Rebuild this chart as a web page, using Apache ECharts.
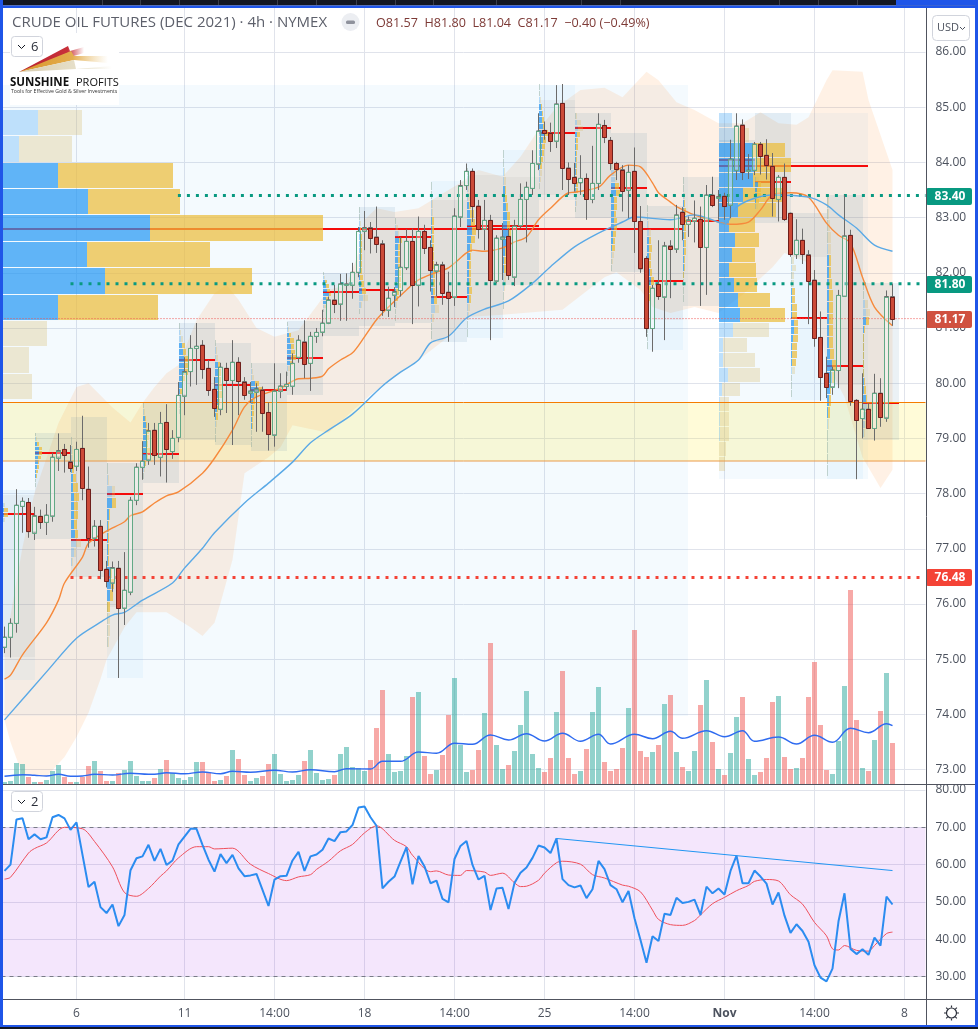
<!DOCTYPE html>
<html>
<head>
<meta charset="utf-8">
<title>Crude Oil Futures</title>
<script src="https://cdn.jsdelivr.net/npm/echarts@6/dist/echarts.min.js"></script>
<style>
html, body { margin: 0; padding: 0; background: #fff; }
#chart { width: 978px; height: 1029px; }
</style>
</head>
<body>
<div id="chart"></div>
<script>
const barOpen = [75.22,75.40,75.65,77.77,77.84,77.30,77.59,77.48,77.60,78.66,78.80,78.58,78.50,78.82,78.08,77.20,77.41,76.63,76.39,76.65,75.93,76.22,77.88,78.48,78.62,79.15,78.66,79.29,78.76,79.02,79.78,80.21,80.63,80.69,80.27,79.89,79.53,80.27,80.05,80.38,80.03,79.83,79.85,79.88,79.47,79.07,79.86,79.94,79.95,80.47,80.75,80.36,80.85,80.93,81.10,81.51,81.44,81.78,81.78,82.01,82.76,82.82,82.65,82.53,81.33,81.60,81.68,82.09,82.57,81.78,82.75,82.46,82.04,82.15,81.65,81.57,83.02,83.58,83.84,83.21,82.79,82.95,81.86,82.62,82.66,81.93,82.85,83.33,83.53,83.98,84.58,84.53,84.39,85.07,83.90,83.73,83.63,83.71,83.33,83.62,84.67,84.40,83.98,83.87,83.50,83.84,82.93,82.26,80.99,81.79,81.57,82.49,82.44,83.10,82.88,82.94,82.97,82.46,83.41,83.36,83.39,83.23,83.86,84.68,83.85,83.86,84.33,84.13,83.93,83.33,83.73,83.08,82.33,82.59,82.33,81.87,80.83,80.18,79.94,80.23,81.58,82.68,79.69,79.36,79.53,79.18,79.82,79.38,81.57];
const barClose = [75.40,75.65,77.79,77.86,77.31,77.60,77.48,77.61,78.66,78.78,78.70,78.47,78.80,78.10,77.20,77.41,76.61,76.41,76.66,75.92,76.25,77.88,78.48,78.59,79.14,78.69,79.27,78.80,79.00,79.78,80.21,80.63,80.67,80.25,79.87,79.55,80.29,80.05,80.38,80.03,79.80,79.86,79.90,79.47,79.07,79.86,79.95,79.98,80.36,80.78,80.36,80.85,80.92,81.09,81.51,81.44,81.80,81.80,82.01,82.75,82.82,82.64,82.53,81.33,81.54,81.66,82.10,82.57,81.77,82.75,82.45,82.04,82.15,81.65,81.55,83.03,83.58,83.84,83.20,82.80,82.95,81.86,82.63,82.65,81.95,82.85,83.33,83.55,83.98,84.57,84.53,84.39,85.06,83.90,83.70,83.63,83.71,83.33,83.62,84.69,84.45,83.98,83.87,83.49,83.82,82.93,82.07,80.99,81.72,81.57,82.49,82.44,83.05,82.88,82.96,82.99,82.47,83.41,83.22,83.38,83.20,84.06,84.66,83.83,83.86,84.33,84.12,83.94,83.35,83.73,82.97,82.33,82.59,82.33,81.86,80.82,80.11,79.93,80.24,81.59,82.67,79.68,79.33,79.53,79.18,79.82,79.38,81.57,81.17];
const barLow = [75.11,75.03,75.48,77.29,77.20,77.16,77.36,77.25,77.49,78.41,78.38,78.39,78.41,77.88,77.02,77.04,76.45,76.30,76.22,74.66,75.62,76.16,77.79,78.25,78.52,78.52,78.31,78.20,78.63,78.93,79.42,79.94,79.97,80.08,79.77,79.39,79.42,79.46,78.88,79.42,79.70,79.64,79.12,79.12,78.78,78.85,79.73,79.86,79.79,80.37,80.09,79.86,80.73,80.85,81.07,81.27,81.13,81.13,81.53,81.92,82.41,82.35,82.36,81.22,81.20,81.38,81.57,82.05,81.07,81.39,82.34,81.66,81.57,81.42,80.75,81.40,82.83,83.50,82.92,82.62,82.41,80.78,81.81,81.87,81.87,81.76,82.81,82.55,83.41,83.86,84.41,84.19,84.26,83.50,83.41,83.47,83.41,82.96,83.26,83.50,84.35,83.86,83.68,83.11,82.99,82.36,82.00,80.84,80.57,81.51,80.78,81.54,82.36,82.59,82.65,82.55,81.40,81.60,83.19,82.96,82.96,82.99,83.68,83.68,83.70,83.77,83.78,83.69,83.02,82.93,82.94,82.29,82.25,82.16,81.07,80.66,79.68,79.73,79.79,79.91,81.57,79.59,78.26,79.00,79.17,78.96,79.21,79.30,81.04];
const barHigh = [75.59,75.74,78.08,77.93,77.92,77.76,77.71,77.81,78.74,79.09,78.90,78.88,78.94,79.41,78.49,77.52,77.52,76.78,76.77,76.78,76.94,77.94,78.55,78.95,79.28,79.28,79.48,79.62,79.15,80.02,80.47,80.87,81.09,80.78,80.42,80.11,80.37,80.37,80.78,80.47,80.11,80.02,80.00,79.94,79.65,80.36,80.18,80.21,80.54,80.87,81.14,80.93,81.00,81.33,81.57,81.78,81.98,81.99,82.18,82.83,83.12,82.92,83.20,82.59,81.75,81.74,82.65,82.79,82.80,83.02,82.87,82.59,82.20,82.20,82.02,83.17,83.68,83.98,83.89,83.32,83.32,83.05,82.68,82.90,82.81,82.96,83.62,83.65,84.22,84.89,84.74,84.72,85.40,85.42,84.00,83.99,84.13,83.80,84.30,84.89,84.77,84.46,84.01,83.95,83.95,84.27,83.21,82.30,81.78,82.59,82.56,82.59,83.23,83.19,83.02,83.31,83.20,83.59,83.74,83.50,83.45,84.41,84.89,84.78,84.15,84.37,84.37,84.42,84.17,83.77,83.98,83.09,82.97,82.80,82.41,82.05,81.30,80.48,80.30,81.69,83.41,82.78,79.71,80.18,79.64,80.17,80.09,81.68,81.80];
const volume = [2,3,21,20,7,2,2,4,13,19,7,2,2,7,18,23,13,3,3,11,14,23,8,3,3,6,15,24,11,6,4,7,22,22,11,3,4,8,34,25,9,3,6,8,20,30,10,3,4,9,23,34,11,4,5,9,30,37,17,16,13,24,56,94,30,12,13,28,87,92,28,10,14,29,69,106,39,12,14,34,71,141,39,15,19,33,59,93,30,16,12,26,72,113,26,10,13,35,72,97,22,13,15,36,76,154,33,27,32,39,80,89,32,17,13,33,79,104,42,15,9,31,67,87,25,9,12,26,82,88,27,15,16,26,87,122,59,14,10,43,98,194,64,16,13,44,73,111,41];
const volumeMa = [[0,7.7],[3,9.3],[5,8.7],[7,8],[9,9.7],[11,7.7],[13,8],[15,9.7],[18,9],[21,10.7],[24,9.7],[25,9.7],[27,11.3],[30,10.3],[33,12],[36,10.3],[38,12.7],[41,11.7],[45,13.7],[48,12],[51,14.3],[55,12.3],[57,15.3],[61,15],[63,22.7],[66,22.7],[69,32],[72,30.7],[75,40.7],[78,39.7],[81,49],[84,44],[87,50.3],[90,43],[93,50.7],[96,42.7],[99,49.7],[101,40],[105,49.7],[108,45.3],[111,52.7],[113,45.7],[117,53.3],[120,47.3],[123,53.3],[125,42.7],[129,47],[132,40],[135,48.7],[138,41.7],[141,55.7],[144,51.3],[147,60.3],[148,58.3]];
const ma20 = [[0,74.64],[1,74.71],[3,75.08],[7,75.66],[9,76.07],[10,76.38],[13,76.85],[14,77.10],[17,77.32],[20,77.49],[21,77.60],[23,77.67],[25,77.83],[27,77.96],[29,78.03],[33,78.37],[35,78.64],[38,79.15],[40,79.57],[42,79.75],[46,79.91],[49,80.08],[51,80.09],[53,80.13],[54,80.26],[56,80.42],[58,80.55],[60,80.84],[62,81.15],[64,81.38],[67,81.69],[69,81.87],[72,82.01],[74,82.09],[77,82.36],[78,82.41],[80,82.39],[83,82.45],[85,82.56],[87,82.65],[89,82.96],[91,83.17],[94,83.45],[95,83.46],[99,83.55],[101,83.77],[104,83.95],[106,83.92],[108,83.63],[109,83.45],[111,83.28],[112,83.20],[115,83.05],[119,82.92],[121,82.88],[124,82.92],[126,83.14],[128,83.41],[131,83.45],[134,83.37],[137,82.90],[139,82.68],[141,82.54],[143,81.92],[145,81.38],[148,81.04]];
const ma50 = [[0,73.90],[7,74.77],[12,75.38],[16,75.67],[18,75.80],[20,75.85],[23,76.07],[28,76.38],[30,76.65],[33,77.01],[35,77.29],[40,77.83],[44,78.19],[48,78.57],[51,78.92],[54,79.15],[58,79.44],[63,79.95],[66,80.20],[69,80.42],[71,80.73],[74,80.85],[77,81.18],[80,81.34],[84,81.49],[88,81.81],[91,82.11],[95,82.47],[99,82.72],[103,82.92],[105,83.01],[111,82.96],[115,83.05],[118,82.96],[120,82.88],[122,83.19],[125,83.35],[128,83.41],[134,83.37],[137,83.23],[139,83.05],[142,82.81],[145,82.50],[148,82.39]];
const bandUpper = [[0,75.17],[3,77.03],[5,78.01],[9,79.28],[12,79.93],[14,80.00],[18,79.56],[21,79.29],[23,79.64],[25,79.93],[27,80.18],[29,80.33],[32,81.14],[35,81.63],[37,81.78],[39,81.51],[42,81.00],[45,80.84],[49,80.96],[54,81.69],[57,81.78],[59,82.36],[60,82.96],[62,83.17],[65,83.10],[69,83.17],[76,83.63],[79,83.86],[83,83.74],[86,84.10],[89,84.59],[92,85.00],[96,85.31],[100,85.35],[103,85.18],[107,85.64],[109,85.49],[112,85.09],[115,84.95],[119,84.71],[123,84.71],[126,84.91],[129,84.71],[132,84.68],[134,84.82],[137,85.49],[138,85.67],[143,85.64],[144,85.13],[148,83.86]];
const bandLower = [[0,73.90],[1,73.50],[3,72.90],[7,72.87],[10,73.23],[12,73.59],[14,74.03],[16,74.64],[17,74.99],[20,75.58],[22,75.85],[27,75.85],[31,75.58],[33,75.42],[35,75.66],[36,76.02],[38,76.80],[40,78.37],[44,78.66],[46,78.84],[48,79.24],[54,79.10],[61,79.79],[69,80.42],[74,80.84],[77,81.20],[83,81.24],[93,81.33],[100,81.92],[102,82.01],[106,81.69],[108,81.38],[111,81.27],[115,81.38],[119,81.27],[123,81.60],[128,82.10],[130,82.36],[134,82.18],[135,81.56],[137,80.37],[140,79.75],[143,78.66],[146,78.10],[148,78.43]];

const rsi = [58.3,60,72.1,72.4,66.8,68.1,66.8,67.3,72.7,73.3,72.4,69.3,71.3,62.6,54,55.4,48.6,47,49.3,43.5,46.5,58.5,61.7,62.2,65.3,61,64.2,59.9,61.1,65.4,67.5,69.6,69.6,65.3,61.3,58.1,62.8,60.4,62.6,59,56.9,57.1,57.5,53.2,48.9,56,56.9,57,61.1,63.4,58.3,62.2,62.7,64,67,66.3,68.7,68.9,70.6,75.3,75.6,72.7,70.4,53.6,55.4,56.8,60.8,64.7,54.7,62.3,59.5,55,55.7,50.8,49.9,61.5,65,66.3,59.9,56,57,47.8,53.6,53.8,48.1,55.1,57.8,59.2,61.8,65.1,64.6,63.1,67,56.1,54.5,53.9,54.4,51,53.4,61,58.8,54.5,53.4,49.9,52.9,45.6,39.8,33.7,40.8,39.5,46.8,46.5,51.1,49.7,50,50.6,46.5,54.1,52.3,53.6,52,58.3,62.4,55,55,58.4,56.8,54.9,49.3,52.5,46.3,41.7,44,42.2,39.3,33,29.7,28.7,32.1,44.8,52.3,37.4,36,37.3,35.8,40.4,38.3,51.4,49.3];
const rsiMa = [[0,56.1],[1,56.6],[4,63.1],[5,64.3],[7,65.8],[10,70],[13,69.6],[15,66.2],[18,59.4],[20,52.5],[22,51.5],[24,53.6],[26,56.9],[27,58.3],[29,61.8],[32,64.8],[34,64.8],[35,64.2],[38,64.4],[41,60.1],[44,57.6],[47,55.7],[49,56.7],[51,57.3],[52,58.7],[54,60.9],[56,63.7],[58,65.4],[60,68.5],[62,70.4],[65,66.5],[67,64.8],[68,62.5],[71,58.1],[72,58.3],[74,57.2],[76,57.1],[77,58.4],[80,58],[81,57.1],[83,57.7],[85,55.1],[86,54.1],[87,54.2],[89,55.8],[90,57.7],[92,60.5],[93,60.9],[96,60.1],[98,57.3],[100,56.4],[103,54.5],[104,54.2],[106,52.7],[108,47.8],[109,45.3],[111,43.9],[113,43.7],[115,45],[116,46.5],[118,49.5],[120,51.2],[122,53],[124,54.4],[125,55.5],[127,56],[129,55.6],[131,51.9],[133,49.4],[135,44.5],[137,40.9],[138,37.4],[139,37.1],[140,38.3],[142,37],[144,36.8],[145,38.3],[147,41.5],[148,41.9]];
const rsiTrend = [[92,67],[148,58.4]];

const timeTicks = [12,30,45,60,75,90,105,120,135,150];
const timeLabels = ['6','11','14:00','18','14:00','25','14:00','Nov','14:00','8'];
const priceTicks = [73,74,75,76,77,78,79,80,81,82,83,84,85,86];
const rsiTicks = [30,40,50,60,70,80];

const levelUpper = [[28.9,83.40],[153.5,83.40]];
const levelLower = [[11,81.80],[153.5,81.80]];
const levelStop = [[11,76.48],[153.5,76.48]];
const lastClose = 81.17;
const zoneTop = 79.65;
const zoneBottom = 78.59;
const priceTags = [[83.40,'#089981'],[81.80,'#089981'],[81.17,'#d05140'],[76.48,'#f44336']];

// fixed range profile on the left, rows top to bottom
const leftProfileTop = 84.95;
const leftProfileRow = 0.478;
const leftProfileBuy = [5.8,2.7,9.2,14.2,24.5,14,17,9.2,0,0,0];
const leftProfileSell = [7.4,8.8,19.2,15.3,28.8,20.5,24.5,16.7,7.3,4.3,4.8];
const leftPoc = 82.79;

// fixed range profile on the right
const rightProfileTop = 84.89;
const rightProfileRow = 0.271;
const rightProfileBuy = [2.3,2.6,5.8,6,5.8,4.1,3.3,1.8,2.8,2.3,1.8,2.6,3.3,3.6,2.4,0.8,0.8,1.6,0.6,0.3,0.3,0.3,0,0];
const rightProfileSell = [0,2.5,5.3,6.1,2.8,6.9,6.2,4.2,4,3.7,4.5,3.8,5.2,7.5,6,4,5.3,5.3,3,1.5,1.5,1.5,1.3,1.1];
const rightPoc = 83.94;

// session volume profiles
const sessionStart = [-1,5,11,17,23,29,35,41,47,53,59,65,71,77,83,89,95,101,107,113,119,125,131,137,143];
const sessionPoc = [77.63,78.74,77.16,77.99,78.72,80.42,79.97,79.88,80.46,81.66,81.68,82.65,81.56,82.85,82.85,84.53,84.62,83.54,81.85,82.93,84.04,83.64,81.18,80.31,79.64];
const sessionGrayTop = [77.97,79.10,79.39,78.55,79.64,81.09,80.73,80.37,81.13,82.00,83.19,82.99,83.32,83.77,83.74,85.13,84.89,84.53,83.21,83.74,84.41,84.89,83.08,83.41,81.82];
const sessionGrayBottom = [75.04,77.18,76.49,75.95,78.19,78.97,78.88,78.77,79.79,80.85,81.04,81.09,80.75,81.14,81.78,83.41,82.99,82.01,81.15,81.39,82.90,82.90,82.29,79.97,78.97];
const sessionOuterTop = [78.06,79.10,79.39,78.55,79.64,81.09,80.73,80.37,81.13,82.00,83.19,82.99,83.66,83.99,84.22,85.40,84.89,84.53,83.21,83.74,84.41,84.89,83.08,83.41,81.82];
const sessionOuterBottom = [74.62,77.18,76.49,74.66,78.19,78.97,78.88,78.77,79.79,80.85,81.04,81.09,80.75,80.82,81.78,83.32,82.99,82.01,80.60,81.39,82.90,82.90,79.69,78.26,78.97];
const sessionRowTop = [77.83,79.10,79.03,78.55,79.64,81.09,80.78,80.37,81.11,82.01,83.19,82.99,83.64,83.90,84.22,85.42,84.89,83.99,83.23,83.74,84.04,83.74,82.29,83.37,81.82];
const sessionRowBottom = [77.47,78.10,76.67,75.20,78.25,79.42,78.92,78.83,80.11,81.27,81.23,81.11,80.78,80.82,81.33,83.50,83.08,82.01,80.60,81.45,83.32,83.14,79.73,78.30,79.01];
const sessionBuy = [
  [.9,.9,.9,.9],
  [.1,.2,.4,.7,.7,.6,.5,.4,.3,.2,.1,.1],
  [.1,.2,.2,.3,.4,.4,.5,.5,.6,.6,.8,.9,.5,.2],
  [.1,.2,.9,.9,.4,.2,.2,.2,.2,.7,.8,.6,.1,.1,.1,.1],
  [.1,.2,.4,.5,.6,.7,.7,.7,.6,.4,.2,.1],
  [.1,.2,.4,.6,.8,.9,1,.9,.7,.5,.3,.2,.1,.1],
  [.1,.2,.3,.5,.6,.6,.8,.7,.5,.4,.3,.2,.1,.1],
  [.1,.2,.3,.8,1.2,.5,.4,.3,.3,.2,.2,.1,.1,.1],
  [.1,.2,.4,.6,.7,.7,.8,.5,.3,.1],
  [.1,.2,.4,.6,.7,1,.6,.5,.3,.1],
  [.1,.1,.2,.2,.3,.3,.3,.3,.3,.3,.3,.4,.6,.8,.4,.1],
  [.1,.3,.5,.8,.6,.5,.5,.6,.6,.6,.5,.3,.2,.2,.1,.1],
  [.1,.1,.2,.2,.3,.3,.3,.3,.3,.3,.4,.4,.4,.6,.8,.3,.1,.1],
  [.1,.2,.2,.3,.4,.5,.7,.9,.7,.5,.5,.4,.4,.4,.4,.4,.3,.2,.1,.1],
  [.1,.1,.2,.3,.4,.4,.6,.7,.8,.9,.8,.4,.3,.2,.2,.2,.1,.1],
  [.1,.1,.2,.4,.5,.6,.7,.9,.8,.6,.5,.4,.3,.3,.2,.1],
  [.1,.4,.6,.4,.3,.3,.3,.3,.3,.3,.3,.3,.3,.2,.2,.1],
  [.1,.6,.7,.8,.9,.6,.6,.5,.5,.5,.4,.4,.3,.2,.1,.1],
  [.1,.1,.2,.4,.4,.4,.4,.4,.5,.7,.4,.3,.2,.2,.1,.1,.1,.1],
  [.1,.1,.2,.2,.3,.3,.3,.3,.3,.3,.2,.2,.1,.1,.1,.1],
  [],
  [.3,.5,.4,.4,.3,.2],
  [.1,.2,.1,.1,.2,.2,.2,.3,.5,.5,.4,.3,.3,.3,.2,.1,.1,.1],
  [.1,.1,.1,.1,.2,.4,.4,.4,.4,.4,.4,.4,.4,.6,.9,.9,.5,.4,.3,.2,.1,.1,.1,.1],
  [.1,.1,.4,.5,.6,.2,.1,.1,.1,.1,.1,.2,.3,.5,.8,.5,.4,.2]
];
const sessionSell = [
  [.2,.7,.7,.2],
  [.1,.2,.4,.5,.6,.5,.3,.3,.2,.1,.1,.1],
  [.1,.2,.2,.3,.5,.8,.9,.7,.6,.4,.5,.8,.4,.2],
  [.1,.1,.5,.6,.1,.1,.1,.1,.1,.2,.4,.5,.5,.5,.4,.3],
  [.1,.1,.2,.3,.5,.3,.2,.5,.3,.2,.1,.1],
  [.1,.2,.3,.5,.5,.8,.8,.6,.4,.3,.2,.2,.1,.1],
  [.1,.2,.3,.4,.5,.5,.5,.5,.4,.2,.2,.1,.1,.1],
  [.1,.2,.2,.6,.8,.4,.4,.3,.2,.2,.2,.1,.1,.1],
  [.1,.2,.4,.6,.5,.7,.8,.5,.2,.1],
  [.1,.2,.3,.5,.5,.4,.4,.3,.2,.1],
  [.1,.1,.1,.2,.3,.3,.3,.3,.3,.3,.4,.5,.7,.7,.2,.1],
  [.1,.2,.3,.5,.5,.5,.5,.5,.5,.5,.5,.4,.3,.2,.1,.1],
  [.1,.1,.1,.1,.2,.2,.2,.2,.2,.2,.3,.3,.4,.5,.6,.3,.1,.1],
  [.1,.1,.2,.3,.4,.7,.7,.7,.7,.4,.3,.3,.3,.4,.5,.4,.3,.2,.1,.1],
  [.1,.1,.1,.2,.2,.3,.3,.5,.5,.5,.5,.4,.3,.3,.3,.2,.1,.1],
  [.1,.1,.1,.2,.2,.3,.4,.6,.5,.5,.4,.3,.2,.2,.1,.1],
  [.3,.7,.8,.5,.2,.2,.1,.1,.1,.1,.1,.2,.2,.2,.1,.1],
  [.3,.4,.3,.6,.7,.4,.4,.4,.5,.5,.5,.4,.5,.4,.3,.2],
  [.1,.1,.2,.3,.4,.5,.4,.4,.4,.6,.4,.3,.2,.1,.1,.1,.1,.1],
  [.1,.1,.1,.2,.2,.3,.3,.2,.2,.2,.1,.1,.1,.1,.1,.1],
  [],
  [.5,.6,.6,.6,.4,.3],
  [.5,.7,.5,.5,.5,.6,.8,.8,.8,.8,.8,.7,.7,.6,.5,.2,.1,.1],
  [.3,.3,.5,.6,.5,.3,.4,.5,.6,.7,.7,.7,.7,.6,.7,.5,.3,.3,.2,.2,.2,.2,.1,.1],
  [.1,.1,.5,.7,.5,.1,.1,.1,.1,.1,.1,.2,.3,.3,.7,.5,.2,.1]
];

const gridLine = '#e0e3eb';
const textGrey = '#4c525e';
const fontName = '"Open Sans", "Noto Sans", sans-serif';
const blueFrame = '#1f55e8';

// rect fills by kind
const palette = [
  'rgba(33,150,243,0.05)',
  'rgba(120,120,120,0.065)',
  'rgba(255,235,59,0.2)',
  'rgba(33,150,243,0.7)',
  'rgba(236,188,60,0.72)',
  'rgba(33,150,243,0.26)',
  'rgba(214,190,110,0.3)'
];

const barIndex = barOpen.map((_, i) => i);
const categories = Array.from({ length: 154 }, (_, i) => String(i));
const candleData = barIndex.map(i => [barOpen[i], barClose[i], barLow[i], barHigh[i]]);
const bodyData = barIndex.map(i => [i, barOpen[i], barClose[i]]);
const volumeData = barIndex.map(i => ({
  value: volume[i],
  itemStyle: { color: barClose[i] >= barOpen[i] ? 'rgba(38,166,154,0.5)' : 'rgba(239,83,80,0.5)' }
}));
const rsiData = barIndex.map(i => [i, rsi[i]]);

const lowerBoxes = [
  [-0.5, 113.9, 85.40, 73.97, 0],
  [119, 143.9, 84.90, 78.26, 0],
  [-0.5, 153.5, zoneTop, zoneBottom, 2]
];
const sessionBoxes = [];
const pocLines = [[-0.25, 113, leftPoc], [119, 143.75, rightPoc]];
const profileRows = [];

function addRows(start, top, rowSize, buy, sell, solidFrom, solidTo) {
  buy.forEach((b, r) => {
    const solid = r >= solidFrom && r <= solidTo;
    const y0 = top - r * rowSize;
    const y1 = y0 - rowSize;
    if (b > 0) profileRows.push([start, start + b, y0, y1, solid ? 3 : 5]);
    if (sell[r] > 0) profileRows.push([start + b, start + b + sell[r], y0, y1, solid ? 4 : 6]);
  });
}

addRows(-0.25, leftProfileTop, leftProfileRow, leftProfileBuy, leftProfileSell, 2, 7);
addRows(119, rightProfileTop, rightProfileRow, rightProfileBuy, rightProfileSell, 2, 13);

sessionStart.forEach((s, k) => {
  sessionBoxes.push([s, s + 6, sessionOuterTop[k], sessionOuterBottom[k], 0]);
  sessionBoxes.push([s, s + 6, sessionGrayTop[k], sessionGrayBottom[k], 1]);
  pocLines.push([s, s + 6, sessionPoc[k]]);
  const n = sessionBuy[k].length;
  if (n) {
    const rowSize = (sessionRowTop[k] - sessionRowBottom[k]) / n;
    addRows(s, sessionRowTop[k], rowSize, sessionBuy[k], sessionSell[k], Math.round(n * 0.2), Math.round(n * 0.8) - 1);
  }
});

function renderBox(params, api) {
  const a = api.coord([api.value(0), api.value(2)]);
  const b = api.coord([api.value(1), api.value(3)]);
  const x = Math.round(a[0]);
  const y = Math.round(a[1]);
  return {
    type: 'rect',
    shape: { x: x, y: y, width: Math.round(b[0]) - x, height: Math.round(b[1]) - y },
    style: { fill: palette[api.value(4)] }
  };
}

function renderRow(params, api) {
  const a = api.coord([api.value(0), api.value(2)]);
  const b = api.coord([api.value(1), api.value(3)]);
  const x = Math.round(a[0]);
  const y = Math.round(a[1]);
  return {
    type: 'rect',
    shape: { x: x, y: y, width: Math.max(Math.round(b[0]) - x, 1), height: Math.max(Math.round(b[1]) - y - 1, 1) },
    style: { fill: palette[api.value(4)] }
  };
}

function renderPoc(params, api) {
  const a = api.coord([api.value(0), api.value(2)]);
  const b = api.coord([api.value(1), api.value(2)]);
  return {
    type: 'rect',
    shape: { x: Math.round(a[0]), y: Math.round(a[1]) - 1, width: Math.round(b[0] - a[0]), height: 2 },
    style: { fill: '#f40b0b' }
  };
}

function renderBand(params, api) {
  const pts = bandUpper.concat(bandLower.slice().reverse()).map(p => api.coord(p));
  return { type: 'polygon', shape: { points: pts }, style: { fill: 'rgba(255,140,40,0.12)' } };
}

function renderBody(params, api) {
  const o = api.value(1);
  const c = api.value(2);
  const up = c >= o;
  const p0 = api.coord([api.value(0), Math.max(o, c)]);
  const p1 = api.coord([api.value(0), Math.min(o, c)]);
  const top = Math.round(p0[1]) + 0.5;
  const h = Math.max(Math.round(p1[1] - p0[1]), 1);
  return {
    type: 'rect',
    shape: { x: p0[0] - 2, y: top, width: 4, height: h },
    style: {
      fill: up ? 'rgba(255,255,255,0.35)' : '#cc4a38',
      stroke: up ? '#62a986' : '#6e1f1c',
      lineWidth: 1
    }
  };
}

function renderTag(params, api) {
  const y = Math.round(api.coord([0, api.value(0)])[1]);
  const item = priceTags[params.dataIndex];
  return {
    type: 'group',
    children: [
      { type: 'rect', shape: { x: 926, y: y - 8, width: 46, height: 17, r: 2 }, style: { fill: item[1] } },
      {
        type: 'text',
        style: {
          x: 950, y: y + 1, text: item[0].toFixed(2), fill: '#fff',
          font: 'bold 12px ' + fontName, textAlign: 'center', textVerticalAlign: 'middle'
        }
      }
    ]
  };
}

function lineSeries(name, data, color, width, extra) {
  return Object.assign({
    name: name,
    type: 'line',
    xAxisIndex: 1,
    yAxisIndex: 0,
    data: data,
    showSymbol: false,
    symbol: 'none',
    lineStyle: { color: color, width: width },
    silent: true,
    z: 5
  }, extra || {});
}

const series = [
  { type: 'custom', name: 'ranges', xAxisIndex: 1, yAxisIndex: 0, data: lowerBoxes, renderItem: renderBox, clip: true, z: 1, silent: true },
  { type: 'custom', name: 'band', xAxisIndex: 1, yAxisIndex: 0, data: [[0, 0]], renderItem: renderBand, clip: true, z: 1, silent: true },
  { type: 'custom', name: 'sessions', xAxisIndex: 1, yAxisIndex: 0, data: sessionBoxes, renderItem: renderBox, clip: true, z: 2, silent: true },
  { type: 'custom', name: 'poc', xAxisIndex: 1, yAxisIndex: 0, data: pocLines, renderItem: renderPoc, clip: true, z: 3, silent: true },
  { type: 'custom', name: 'profile', xAxisIndex: 1, yAxisIndex: 0, data: profileRows, renderItem: renderRow, clip: true, z: 4, silent: true },
  {
    type: 'bar', name: 'Volume', xAxisIndex: 0, yAxisIndex: 1, data: volumeData,
    barWidth: 5, z: 4, silent: true
  },
  lineSeries('Volume MA', volumeMa, '#2f6bf0', 1.4, { yAxisIndex: 1, smooth: 0.4 }),
  lineSeries('Zone top', [[-0.5, zoneTop], [153.5, zoneTop]], '#f57c00', 1),
  lineSeries('Zone bottom', [[-0.5, zoneBottom], [153.5, zoneBottom]], '#ea9a4a', 1),
  lineSeries('Last', [[-0.5, lastClose], [153.5, lastClose]], '#ef5350', 1, { lineStyle: { color: '#ef5350', width: 1, type: [1, 2] } }),
  lineSeries('Level upper', levelUpper, '#089981', 3, { lineStyle: { color: '#089981', width: 3, type: [3, 6] } }),
  lineSeries('Level lower', levelLower, '#089981', 3, { lineStyle: { color: '#089981', width: 3, type: [3, 6] } }),
  lineSeries('Level stop', levelStop, '#f44336', 3, { lineStyle: { color: '#f44336', width: 3, type: [3, 6] } }),
  lineSeries('MA20', ma20, '#f68a3c', 1.4, { smooth: 0.3 }),
  lineSeries('MA50', ma50, '#5aa9e6', 1.4, { smooth: 0.3 }),
  {
    type: 'candlestick', name: 'CL', xAxisIndex: 0, yAxisIndex: 0, data: candleData,
    barWidth: 4, z: 6, silent: true,
    itemStyle: { color: 'transparent', color0: 'transparent', borderColor: '#6b6b6b', borderColor0: '#6b6b6b', borderWidth: 1 }
  },
  { type: 'custom', name: 'bodies', xAxisIndex: 1, yAxisIndex: 0, data: bodyData, renderItem: renderBody, clip: true, z: 7, silent: true },
  { type: 'custom', name: 'tags', xAxisIndex: 1, yAxisIndex: 0, data: priceTags.map(t => [t[0]]), encode: { y: 0 }, renderItem: renderTag, clip: false, z: 9, silent: true },
  lineSeries('RSI trend', rsiTrend, '#2196f3', 1, { xAxisIndex: 2, yAxisIndex: 2, z: 6 }),
  lineSeries('RSI MA', rsiMa, '#f0505c', 1, { xAxisIndex: 2, yAxisIndex: 2, smooth: 0.3, z: 6 }),
  lineSeries('RSI', rsiData, '#2b8cf0', 2, {
    xAxisIndex: 2, yAxisIndex: 2, z: 7,
    markArea: { silent: true, itemStyle: { color: 'rgba(145,5,225,0.1)' }, data: [[{ yAxis: 30 }, { yAxis: 70 }]] },
    markLine: {
      silent: true, symbol: 'none', label: { show: false },
      lineStyle: { color: '#787b86', type: [4, 4], width: 1 },
      data: [{ yAxis: 70 }, { yAxis: 30 }]
    }
  })
];

function splitX(gridIndex, labels) {
  return {
    type: 'value', gridIndex: gridIndex, min: -0.5, max: 153.5,
    axisLine: { show: false },
    axisTick: { show: false, customValues: timeTicks },
    splitLine: { show: true, lineStyle: { color: gridLine, width: 1 } },
    axisLabel: labels ? {
      show: true, customValues: timeTicks, margin: 8, color: textGrey, fontSize: 12, fontFamily: fontName,
      formatter: v => {
        const label = timeLabels[timeTicks.indexOf(v)];
        return label === 'Nov' ? '{b|Nov}' : label;
      },
      rich: { b: { fontWeight: 'bold', color: textGrey, fontSize: 12, fontFamily: fontName } }
    } : { show: false }
  };
}

function priceY(gridIndex, min, max, ticks) {
  return {
    type: 'value', gridIndex: gridIndex, position: 'right', min: min, max: max, scale: true,
    axisLine: { show: false },
    axisTick: { show: false, customValues: ticks },
    splitLine: { show: true, lineStyle: { color: gridLine, width: 1 } },
    axisLabel: {
      customValues: ticks, margin: 10, color: textGrey, fontSize: 12, fontFamily: fontName,
      formatter: v => v.toFixed(2)
    }
  };
}

// frame, header, logo: page furniture that is not data
const topTicks = [102,140,179,218,277,316,356,395,433,496,581,620,779,818,857];
const graphics = [
  { type: 'text', z: 30, style: { x: 12, y: 23, text: 'CRUDE OIL FUTURES (DEC 2021) · 4h · NYMEX', fill: '#5d606b', font: '15px ' + fontName, textVerticalAlign: 'middle' } },
  { type: 'circle', z: 30, shape: { cx: 350.5, cy: 22, r: 9 }, style: { fill: '#eceef2' } },
  { type: 'rect', z: 31, shape: { x: 346, y: 20.5, width: 9, height: 3.5, r: 1.5 }, style: { fill: '#8f929c' } },
  { type: 'text', z: 30, style: { x: 376, y: 23, text: 'O81.57  H81.80  L81.04  C81.17  −0.40 (−0.49%)', fill: '#7d3a36', font: '12.6px ' + fontName, textVerticalAlign: 'middle' } },
  { type: 'rect', z: 30, shape: { x: 10, y: 33, width: 109, height: 72 }, style: { fill: '#fff' } },
  {
    type: 'polygon', z: 31, shape: { points: [[19, 72], [68, 46], [70, 51], [84, 47], [84, 53]] },
    style: { fill: { type: 'linear', x: 0, y: 0, x2: 1, y2: 0, colorStops: [{ offset: 0, color: '#b8222f' }, { offset: 0.75, color: '#c8303a' }, { offset: 1, color: 'rgba(200,48,58,0)' }] } }
  },
  {
    type: 'polygon', z: 31, shape: { points: [[19, 72], [71, 51], [74, 56], [108, 56], [108, 63], [74, 60]] },
    style: { fill: { type: 'linear', x: 0, y: 0, x2: 1, y2: 0, colorStops: [{ offset: 0, color: '#d8952a' }, { offset: 0.6, color: '#e3ad4d' }, { offset: 1, color: 'rgba(235,200,130,0)' }] } }
  },
  {
    type: 'polygon', z: 31, shape: { points: [[19, 72], [74, 60], [76, 69], [112, 66], [112, 69], [76, 69]] },
    style: { fill: { type: 'linear', x: 0, y: 0, x2: 1, y2: 0, colorStops: [{ offset: 0, color: '#d8cdb0' }, { offset: 0.6, color: '#e6dfc8' }, { offset: 1, color: 'rgba(230,223,200,0)' }] } }
  },
  { type: 'text', z: 32, style: { x: 10, y: 83, text: 'SUNSHINE', fill: '#111', font: 'bold 11.5px ' + fontName, textVerticalAlign: 'middle' } },
  { type: 'text', z: 32, style: { x: 76, y: 83, text: 'PROFITS', fill: '#111', font: '11px ' + fontName, textVerticalAlign: 'middle' } },
  { type: 'text', z: 32, style: { x: 11, y: 92, text: 'Tools for Effective Gold & Silver Investments', fill: '#333', font: '5.2px ' + fontName, textVerticalAlign: 'middle' } },
  { type: 'rect', z: 33, shape: { x: 11.5, y: 36.5, width: 31, height: 20, r: 3 }, style: { fill: 'rgba(255,255,255,0.9)', stroke: '#d1d4dc' } },
  { type: 'polyline', z: 34, shape: { points: [[18, 45], [21.5, 48.5], [25, 45]] }, style: { stroke: '#131722', fill: 'none', lineWidth: 1 } },
  { type: 'text', z: 34, style: { x: 31, y: 47, text: '6', fill: '#2a2e39', font: '13px ' + fontName, textVerticalAlign: 'middle' } },
  { type: 'rect', z: 33, shape: { x: 11.5, y: 791.5, width: 31, height: 20, r: 3 }, style: { fill: 'rgba(255,255,255,0.9)', stroke: '#d1d4dc' } },
  { type: 'polyline', z: 34, shape: { points: [[18, 800], [21.5, 803.5], [25, 800]] }, style: { stroke: '#131722', fill: 'none', lineWidth: 1 } },
  { type: 'text', z: 34, style: { x: 31, y: 802, text: '2', fill: '#2a2e39', font: '13px ' + fontName, textVerticalAlign: 'middle' } },
  { type: 'rect', z: 33, shape: { x: 932.5, y: 15.5, width: 37, height: 25, r: 4 }, style: { fill: '#fff', stroke: '#d1d4dc' } },
  { type: 'text', z: 34, style: { x: 937, y: 28, text: 'USD', fill: '#4c525e', font: '11px ' + fontName, textVerticalAlign: 'middle' } },
  { type: 'polyline', z: 34, shape: { points: [[960, 27], [962.5, 29.5], [965, 27]] }, style: { stroke: '#4c525e', fill: 'none', lineWidth: 1 } },
  { type: 'line', z: 35, shape: { x1: 926.5, y1: 8, x2: 926.5, y2: 1025 }, style: { stroke: '#50535e', lineWidth: 1 } },
  { type: 'line', z: 35, shape: { x1: 3, y1: 784.5, x2: 975, y2: 784.5 }, style: { stroke: '#50535e', lineWidth: 1 } },
  { type: 'line', z: 35, shape: { x1: 3, y1: 999.5, x2: 975, y2: 999.5 }, style: { stroke: '#50535e', lineWidth: 1 } },
  { type: 'circle', z: 35, shape: { cx: 951.5, cy: 1013, r: 5 }, style: { fill: 'none', stroke: '#2a2e39', lineWidth: 1.2 } },
  { type: 'rect', z: 40, shape: { x: 0, y: 0, width: 978, height: 5.5 }, style: { fill: '#131722' } },
  { type: 'rect', z: 41, shape: { x: 896, y: 0, width: 82, height: 5.5 }, style: { fill: blueFrame } },
  { type: 'rect', z: 41, shape: { x: 0, y: 5.5, width: 978, height: 2.5 }, style: { fill: blueFrame } },
  { type: 'rect', z: 41, shape: { x: 0, y: 0, width: 3, height: 1029 }, style: { fill: blueFrame } },
  { type: 'rect', z: 41, shape: { x: 975, y: 0, width: 3, height: 1029 }, style: { fill: blueFrame } },
  { type: 'rect', z: 41, shape: { x: 0, y: 1025, width: 978, height: 2 }, style: { fill: blueFrame } },
  { type: 'rect', z: 41, shape: { x: 0, y: 1027, width: 978, height: 2 }, style: { fill: '#131722' } }
];
topTicks.forEach(x => {
  graphics.push({ type: 'line', z: 42, shape: { x1: x + 0.5, y1: 0, x2: x + 0.5, y2: 5 }, style: { stroke: '#3a3e4a', lineWidth: 1 } });
});
for (let k = 0; k < 8; k++) {
  const t = k * Math.PI / 4;
  graphics.push({
    type: 'line', z: 35,
    shape: { x1: 951.5 + 5.5 * Math.cos(t), y1: 1013 + 5.5 * Math.sin(t), x2: 951.5 + 7.5 * Math.cos(t), y2: 1013 + 7.5 * Math.sin(t) },
    style: { stroke: '#2a2e39', lineWidth: 1.2 }
  });
}

const myChart = echarts.init(document.getElementById('chart'), null, { renderer: 'canvas' });
myChart.setOption({
  animation: false,
  backgroundColor: '#fff',
  tooltip: { show: false },
  grid: [
    { left: 1.5, top: 8, width: 924, height: 776 },
    { left: 1.5, top: 785, width: 924, height: 214.3 }
  ],
  xAxis: [
    { type: 'category', gridIndex: 0, data: categories, show: false, boundaryGap: true },
    splitX(0, false),
    splitX(1, true)
  ],
  yAxis: [
    priceY(0, 72.739, 86.797, priceTicks),
    { type: 'value', gridIndex: 0, min: 0, max: 776, show: false, splitLine: { show: false } },
    priceY(1, 23.88, 81.34, rsiTicks)
  ],
  graphic: { elements: graphics },
  series: series
});
</script>
</body>
</html>
